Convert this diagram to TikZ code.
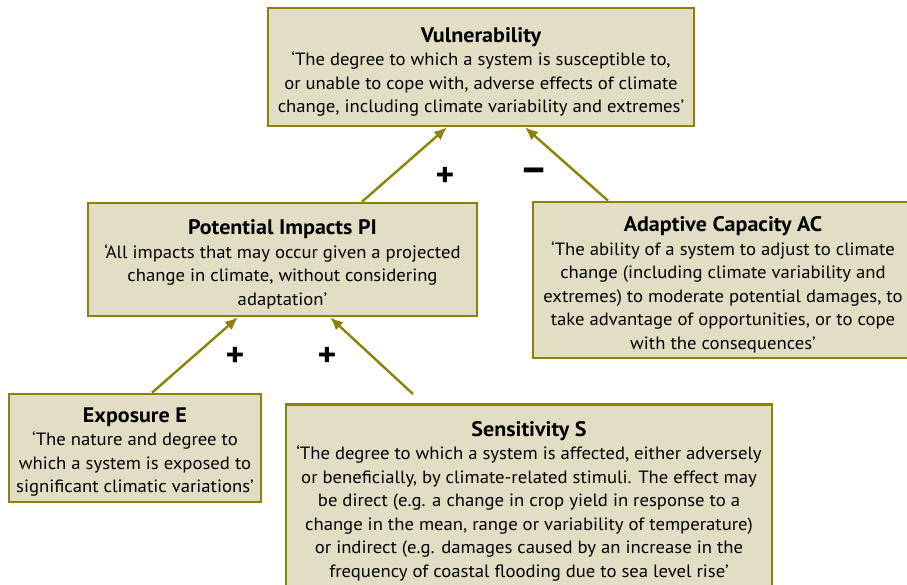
\documentclass[tikz,border=0pt]{standalone}
\usepackage{fontspec}
\setmainfont{PT Sans}[FakeStretch=1.05]
\usetikzlibrary{arrows.meta}
\definecolor{olivebd}{HTML}{8C8206}
\definecolor{beigefill}{HTML}{E2DEC3}
\newcommand{\boxtitle}[1]{{\rule{0pt}{25pt}\fontsize{21}{23.5}\selectfont\bfseries #1}}
\tikzset{
  defbox/.style={draw=olivebd,fill=beigefill,line width=2.6pt,align=center,
    font=\fontsize{17.8}{23.5}\selectfont,inner sep=0pt},
  link/.style={->,draw=olivebd,line width=2.4pt},
  sign/.style={font=\fontsize{34}{34}\selectfont\bfseries}
}
\begin{document}
\begin{tikzpicture}[x=1pt,y=-1pt,>={Latex[length=13pt,width=11pt]}]
\useasboundingbox (0,0) rectangle (907,585);
\node[defbox,minimum width=426pt,minimum height=118pt] (V) at (481,67)
  {\boxtitle{Vulnerability}\\‘The degree to which a system is susceptible to,\\or unable to cope with, adverse effects of climate\\change, including climate variability and extremes’};
\node[defbox,minimum width=389pt,minimum height=113pt] (PI) at (282.5,259.5)
  {\boxtitle{Potential Impacts PI}\\‘All impacts that may occur given a projected\\change in climate, without considering\\adaptation’};
\node[defbox,minimum width=380pt,minimum height=156pt] (AC) at (723,280)
  {\boxtitle{Adaptive Capacity AC}\\‘The ability of a system to adjust to climate\\change (including climate variability and\\extremes) to moderate potential damages, to\\take advantage of opportunities, or to cope\\with the consequences’\rule[-4pt]{0pt}{0pt}};
\node[defbox,minimum width=252pt,minimum height=108pt] (E) at (135,448)
  {\boxtitle{Exposure E}\\‘The nature and degree to\\which a system is exposed to\\significant climatic variations’\rule[-6pt]{0pt}{0pt}};
\node[defbox,minimum width=486pt,minimum height=184pt,anchor=north] (S) at (529,403)
  {\boxtitle{Sensitivity S}\\‘The degree to which a system is affected, either adversely\\or beneficially, by climate-related stimuli. The effect may\\be direct (e.g. a change in crop yield in response to a\\change in the mean, range or variability of temperature)\\or indirect (e.g. damages caused by an increase in the\\frequency of coastal flooding due to sea level rise’};
\coordinate (Stop) at (413,394);
\draw[link] (PI.north -| 362,0) -- (V.south -| 447,0);
\draw[link] (AC.north -| 608,0) -- (V.south -| 525,0);
\draw[link] (E.north -| 152,0) -- (PI.south -| 238,0);
\draw[link] (Stop) -- (PI.south -| 330,0);
\node[sign] (p1) at (445,177) {+};
\node[sign,font=\fontsize{42}{42}\selectfont\bfseries] (m1) at (534,175) {–};
\node[sign] (p2) at (235,357) {+};
\node[sign] (p3) at (327,357) {+};
\end{tikzpicture}
\end{document}
